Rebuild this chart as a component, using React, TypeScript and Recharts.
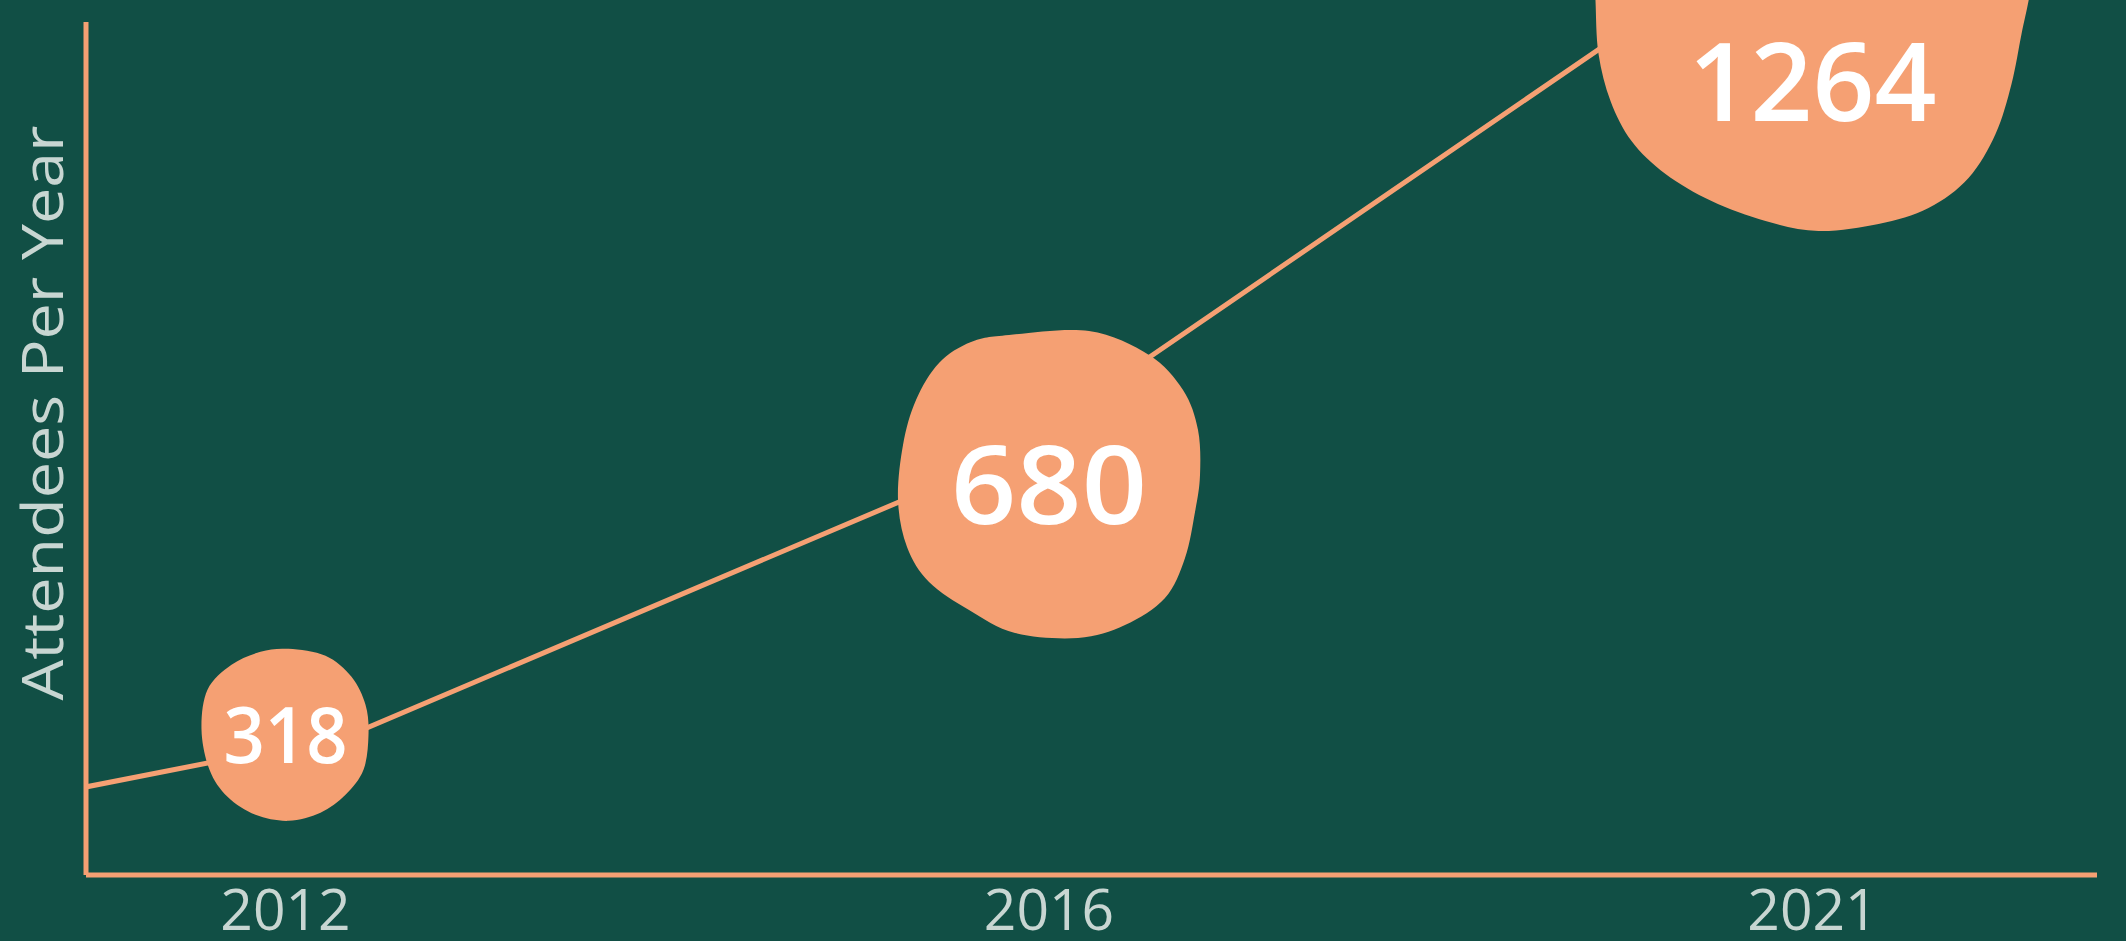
import React from 'react'
import { ComposedChart, Line, Scatter, XAxis, YAxis } from 'recharts'

const years = ['2012', '2016', '2021']
const attendees = [318, 680, 1264]
// value where the line leaves the y-axis
const leadIn = 250

const BG = '#114f45'
const ORANGE = '#f5a073'
const TICK = '#c8d6d2'
const FONT = '"Open Sans", sans-serif'

// axis domains (blobs/ticks and the thin line use different scales in the design)
const mainX: [number, number] = [-0.2613, 2.3726]
const blobY: [number, number] = [114.9, 1351]
const lineX: [number, number] = [-0.4055, 2.6836]
const lineY: [number, number] = [134.6, 1252.2]

const points = attendees.map((v, i) => ({ i, v, year: years[i] }))
const lineData = [{ i: lineX[0], v: leadIn }, ...points]

// blob outlines, relative to the point
const blobShapes: number[][][] = [
  [[3, -86], [40, -79], [66, -58], [80, -30], [83, 0], [78, 35], [60, 60], [35, 78], [3, 86], [-30, 80], [-58, 62], [-76, 35], [-84, -5], [-78, -45], [-54, -70], [-25, -83]],
  [[-40, -150], [40, -154], [100, -130], [134, -95], [149, -55], [151, -10], [146, 27], [136, 73], [116, 113], [76, 140], [29, 153], [-34, 148], [-80, 125], [-120, 97], [-142, 62], [-151, 15], [-146, -40], [-133, -85], [-110, -122], [-78, -143]],
  [[-218, -115], [-217, -81], [-214, -28], [-202, 19], [-181, 59], [-147, 92], [-101, 119], [-47, 139], [6, 149], [66, 142], [116, 126], [156, 96], [183, 52], [199, 2], [209, -48], [216, -81], [222, -115], [228, -150], [232, -200], [150, -265], [0, -275], [-150, -265], [-222, -200], [-220, -150]],
]
const labelSizes = [78, 108, 109]
const labelWidths = [124, 196, 248]

function blobPath(pts: number[][], cx: number, cy: number) {
  const n = pts.length
  let d = `M${cx + pts[0][0]},${cy + pts[0][1]}`
  for (let k = 0; k < n; k++) {
    const p0 = pts[(k - 1 + n) % n]
    const p1 = pts[k]
    const p2 = pts[(k + 1) % n]
    const p3 = pts[(k + 2) % n]
    const c1x = p1[0] + (p2[0] - p0[0]) / 6
    const c1y = p1[1] + (p2[1] - p0[1]) / 6
    const c2x = p2[0] - (p3[0] - p1[0]) / 6
    const c2y = p2[1] - (p3[1] - p1[1]) / 6
    d += ` C${cx + c1x},${cy + c1y} ${cx + c2x},${cy + c2y} ${cx + p2[0]},${cy + p2[1]}`
  }
  return d + ' Z'
}

const renderBlob = (props: any) => {
  const { cx, cy, payload } = props
  const k = payload.i
  const fs = labelSizes[k]
  return (
    <g>
      <path d={blobPath(blobShapes[k], cx, cy)} fill={ORANGE} />
      <text
        x={cx}
        y={cy + fs * 0.357}
        textAnchor="middle"
        fill="#ffffff"
        fontFamily={FONT}
        fontWeight={600}
        fontSize={fs}
        textLength={labelWidths[k]}
        lengthAdjust="spacingAndGlyphs"
      >
        {payload.v}
      </text>
    </g>
  )
}

const renderTick = (props: any) => {
  const { x, y, payload } = props
  return (
    <text x={x} y={y + 55} textAnchor="middle" fill={TICK} fontFamily={FONT} fontSize={57}>
      {years[payload.value]}
    </text>
  )
}

const renderYLabel = (props: any) => {
  const vb = props.viewBox || { x: 0, y: 22 }
  const tx = vb.x + 63
  const ty = vb.y + 391
  return (
    <text
      x={tx}
      y={ty}
      transform={`rotate(-90, ${tx}, ${ty})`}
      textAnchor="middle"
      fill={TICK}
      fontFamily={FONT}
      fontSize={57}
      textLength={575}
      lengthAdjust="spacingAndGlyphs"
    >
      Attendees Per Year
    </text>
  )
}

export default function App() {
  return (
    <div style={{ position: 'absolute', left: 0, top: 0, width: 2126, height: 941, background: BG, overflow: 'hidden' }}>
      <ComposedChart width={2126} height={941} margin={{ top: 22, right: 29, bottom: 0, left: 0 }}>
        <XAxis
          xAxisId="main"
          type="number"
          dataKey="i"
          domain={mainX}
          ticks={[0, 1, 2]}
          interval={0}
          height={66}
          axisLine={{ stroke: ORANGE, strokeWidth: 5 }}
          tickLine={false}
          tickSize={0}
          tickMargin={0}
          tick={renderTick}
        />
        <XAxis xAxisId="line" orientation="top" type="number" dataKey="i" domain={lineX} allowDataOverflow hide />
        <YAxis
          yAxisId="blob"
          type="number"
          domain={blobY}
          width={86}
          tick={false}
          tickLine={false}
          axisLine={{ stroke: ORANGE, strokeWidth: 5 }}
          label={renderYLabel}
        />
        <YAxis yAxisId="line" orientation="right" type="number" domain={lineY} allowDataOverflow hide />
        <Line
          xAxisId="line"
          yAxisId="line"
          data={lineData}
          dataKey="v"
          type="linear"
          stroke={ORANGE}
          strokeWidth={5}
          dot={false}
          activeDot={false}
          isAnimationActive={false}
        />
        <Scatter
          xAxisId="main"
          yAxisId="blob"
          data={points}
          dataKey="v"
          shape={renderBlob}
          isAnimationActive={false}
        />
      </ComposedChart>
    </div>
  )
}
